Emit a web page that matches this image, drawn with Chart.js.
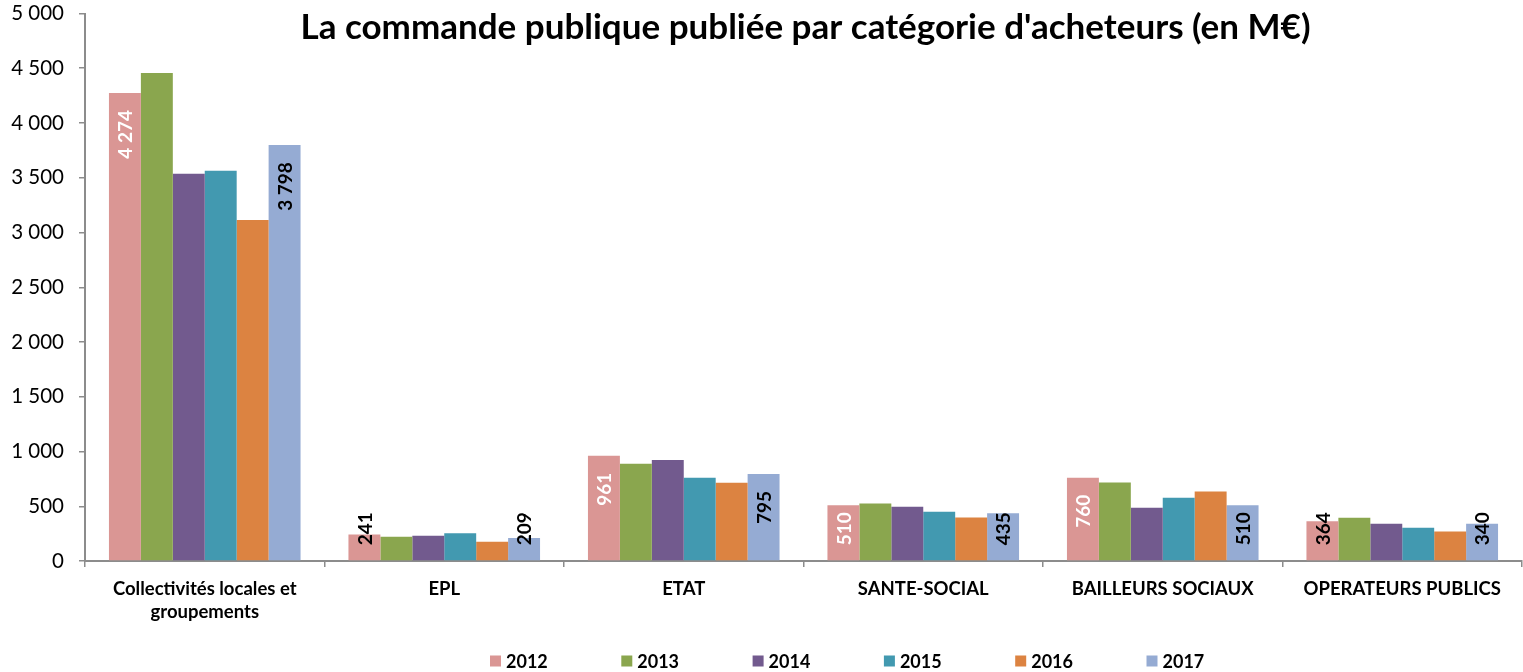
<!DOCTYPE html>
<html><head><meta charset="utf-8">
<script src="https://cdn.jsdelivr.net/npm/chart.js@4.4.1/dist/chart.umd.min.js"></script>
<style>html,body{margin:0;padding:0;background:#fff;}canvas{display:block;}</style>
</head><body>
<canvas id="c" width="1523" height="672"></canvas>
<script>
const categories = [['Collectivités locales et', 'groupements'], 'EPL', 'ETAT', 'SANTE-SOCIAL', 'BAILLEURS SOCIAUX', 'OPERATEURS PUBLICS'];
const years = ['2012', '2013', '2014', '2015', '2016', '2017'];
const v2012 = [4274, 241, 961, 510, 760, 364];
const v2013 = [4457, 222, 888, 525, 717, 395];
const v2014 = [3537, 231, 922, 495, 486, 340];
const v2015 = [3565, 253, 760, 450, 577, 304];
const v2016 = [3114, 176, 714, 398, 635, 270];
const v2017 = [3798, 209, 795, 435, 510, 340];
const yTicks = [0, 500, 1000, 1500, 2000, 2500, 3000, 3500, 4000, 4500, 5000];
const labelledYears = ['2012', '2017'];
const titleText = "La commande publique publiée par catégorie d'acheteurs (en M€)";

const seriesValues = [v2012, v2013, v2014, v2015, v2016, v2017];
const colors = ['#DA9694', '#8AA64E', '#725A8E', '#4299B0', '#DC8341', '#95ABD3'];
const FONT = 'Lato, "Open Sans", sans-serif';
const fmt = v => String(v).replace(/\B(?=(\d{3})+(?!\d))/g, ' ');

const titlePlugin = {
  id: 'fixedTitle',
  afterDraw(chart) {
    const ctx = chart.ctx, a = chart.chartArea;
    ctx.save();
    ctx.font = 'bold 35px ' + FONT;
    ctx.fillStyle = '#000';
    ctx.textAlign = 'center';
    ctx.textBaseline = 'alphabetic';
    ctx.fillText(titleText, (a.left + a.right) / 2 + 2, 39);
    ctx.restore();
  }
};

const barLabelPlugin = {
  id: 'barLabels',
  afterDatasetsDraw(chart) {
    const ctx = chart.ctx;
    chart.data.datasets.forEach((ds, i) => {
      if (!labelledYears.includes(ds.label)) return;
      const meta = chart.getDatasetMeta(i);
      meta.data.forEach((bar, j) => {
        const txt = fmt(ds.data[j]);
        ctx.save();
        ctx.font = 'bold 19px ' + FONT;
        const w = ctx.measureText(txt).width;
        let top = bar.y + 17;
        let bottom = top + w;
        const limit = bar.base - 15;
        if (bottom > limit) { bottom = limit; top = bottom - w; }
        const fits = top >= bar.y;
        ctx.fillStyle = (i === 0 && fits) ? '#FFFFFF' : '#000000';
        ctx.translate(bar.x, (top + bottom) / 2);
        ctx.rotate(-Math.PI / 2);
        ctx.textAlign = 'center';
        ctx.textBaseline = 'middle';
        ctx.fillText(txt, 0, 1);
        ctx.restore();
      });
    });
  }
};

const legendPlugin = {
  id: 'bottomLegend',
  afterDraw(chart) {
    const ctx = chart.ctx;
    const startX = 490, pitch = 131.3, cy = 661;
    ctx.save();
    ctx.font = 'bold 18px ' + FONT;
    ctx.textBaseline = 'middle';
    ctx.textAlign = 'left';
    chart.data.datasets.forEach((ds, i) => {
      const x = startX + i * pitch;
      ctx.fillStyle = ds.backgroundColor;
      ctx.fillRect(x, cy - 5.5, 11, 11);
      ctx.fillStyle = '#000';
      ctx.fillText(ds.label, x + 16, cy + 1);
    });
    ctx.restore();
  }
};

new Chart(document.getElementById('c'), {
  type: 'bar',
  data: {
    labels: categories,
    datasets: years.map((y, i) => ({
      label: y,
      data: seriesValues[i],
      backgroundColor: colors[i],
      borderWidth: 0,
      categoryPercentage: 0.8,
      barPercentage: 1.0
    }))
  },
  options: {
    responsive: false,
    animation: false,
    layout: { padding: { top: 13.5, right: 1, bottom: 0, left: 0 } },
    plugins: { legend: { display: false }, title: { display: false }, tooltip: { enabled: false } },
    scales: {
      x: {
        grid: { offset: true, drawOnChartArea: false, drawTicks: true, tickLength: 6, color: '#8C8C8C', lineWidth: 1.5 },
        border: { color: '#8C8C8C', width: 2 },
        ticks: { color: '#000', font: { family: FONT, size: 18.5, weight: 'bold', lineHeight: 1.25 }, padding: 10, maxRotation: 0, autoSkip: false },
        afterFit: s => { s.height = 111; }
      },
      y: {
        min: 0, max: 5000,
        afterBuildTicks: s => { s.ticks = yTicks.map(v => ({ value: v })); },
        grid: { drawOnChartArea: false, drawTicks: true, tickLength: 6, color: '#8C8C8C', lineWidth: 1.5 },
        border: { color: '#8C8C8C', width: 2 },
        ticks: { color: '#000', font: { family: FONT, size: 20.5 }, padding: 15, callback: v => fmt(v) },
        afterFit: s => { s.width = 85; s.paddingTop = 0; s.paddingBottom = 0; }
      }
    }
  },
  plugins: [titlePlugin, barLabelPlugin, legendPlugin]
});
</script>
</body></html>
